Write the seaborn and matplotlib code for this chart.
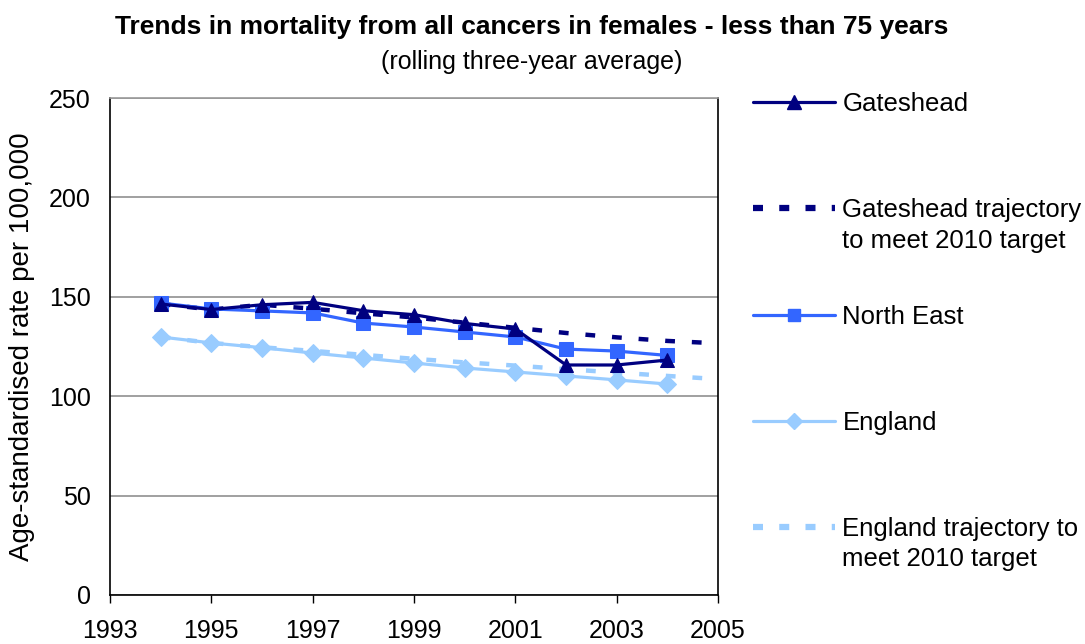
import matplotlib
matplotlib.use("Agg")
import matplotlib.pyplot as plt
import seaborn as sns
import pandas as pd
from matplotlib.lines import Line2D

years = [1994, 1995, 1996, 1997, 1998, 1999, 2000, 2001, 2002, 2003, 2004]
gateshead = [146.4, 143.6, 146.0, 147.2, 143.0, 141.0, 136.6, 133.8, 115.7, 115.7, 118.2]
north_east = [146.9, 143.9, 142.9, 141.9, 136.8, 134.8, 132.3, 129.8, 123.7, 122.7, 120.5]
england = [129.8, 126.8, 124.4, 121.7, 119.2, 116.7, 114.2, 112.2, 110.2, 108.2, 106.1]

traj_years = [1994, 1995, 1996, 1997, 1998, 1999, 2000, 2001, 2002, 2003, 2004, 2005]
gateshead_traj = [146.4, 143.6, 146.0, 144.0, 141.7, 139.6, 137.0, 134.4, 131.8, 129.6, 127.8, 126.6]
england_traj = [129.8, 126.8, 124.6, 122.8, 120.8, 118.8, 117.0, 115.4, 113.6, 111.9, 110.2, 108.6]

labels = ["Gateshead", "Gateshead trajectory", "North East", "England", "England trajectory to"]
labels_second = ["to meet 2010 target", "meet 2010 target"]
x_ticks = [1993, 1995, 1997, 1999, 2001, 2003, 2005]
y_ticks = [0, 50, 100, 150, 200, 250]

title = "Trends in mortality from all cancers in females - less than 75 years"
subtitle = "(rolling three-year average)"
ylabel = "Age-standardised rate per 100,000"

sns.set_theme(style="white")
plt.rcParams["font.family"] = ["Liberation Sans", "DejaVu Sans"]
for k in ["text.color", "axes.labelcolor", "xtick.color", "ytick.color"]:
    plt.rcParams[k] = "black"

c_gh = "#000080"
c_ne = "#3366FF"
c_en = "#99CCFF"

fig = plt.figure(figsize=(10.85, 6.44), dpi=100)
ax = fig.add_axes([0.1014, 0.0761, 0.5604, 0.7717])

df = pd.DataFrame({"year": years, "gh": gateshead, "ne": north_east, "en": england})
dft = pd.DataFrame({"year": traj_years, "ght": gateshead_traj, "ent": england_traj})

lw = 2.3
tlw = 3.2
sns.lineplot(data=dft, x="year", y="ent", ax=ax, color=c_en, lw=tlw, zorder=2)
ax.lines[-1].set_dashes((2.2, 3.8))
sns.lineplot(data=dft, x="year", y="ght", ax=ax, color=c_gh, lw=tlw, zorder=2)
ax.lines[-1].set_dashes((2.2, 3.8))
sns.lineplot(data=df, x="year", y="en", ax=ax, color=c_en, lw=lw, marker="D",
             markersize=9.5, markeredgecolor=c_en, zorder=3)
sns.lineplot(data=df, x="year", y="ne", ax=ax, color=c_ne, lw=lw, marker="s",
             markersize=10, markeredgecolor=c_ne, zorder=4)
sns.lineplot(data=df, x="year", y="gh", ax=ax, color=c_gh, lw=lw, marker="^",
             markersize=10.5, markeredgecolor=c_gh, zorder=5)

ax.set_xlim(1993, 2005)
ax.set_ylim(0, 250)
ax.set_xticks(x_ticks)
ax.set_yticks(y_ticks)
ax.set_xlabel("")
ax.set_ylabel(ylabel, fontsize=20)
ax.yaxis.set_label_coords(-0.123, 0.5)
ax.tick_params(axis="x", direction="out", length=6, width=1, color="black",
               labelsize=18, pad=11, bottom=True)
ax.tick_params(axis="y", length=0, labelsize=18, pad=14)
ax.yaxis.grid(True, color="#999999", lw=1.3)
ax.set_axisbelow(True)
for s in ax.spines.values():
    s.set_visible(True)
    s.set_color("black")
    s.set_linewidth(1.2)
ax.spines["top"].set_color("#999999")

handles = [
    Line2D([], [], color=c_gh, lw=lw, marker="^", markersize=9.5),
    Line2D([], [], color=c_gh, lw=4.5, dashes=(1.6, 2.6)),
    Line2D([], [], color=c_ne, lw=lw, marker="s", markersize=8),
    Line2D([], [], color=c_en, lw=lw, marker="D", markersize=8),
    Line2D([], [], color=c_en, lw=4.5, dashes=(1.6, 2.6)),
]
leg = fig.legend(handles, labels, loc="upper left", bbox_to_anchor=(0.694, 0.857),
                 frameon=False, fontsize=18.5, handlelength=3.2, handletextpad=0.28,
                 labelspacing=3.2, borderaxespad=0, borderpad=0)

fig.text(0.776, 1 - 241 / 644, labels_second[0], fontsize=18.5, va="center", ha="left")
fig.text(0.776, 1 - 559 / 644, labels_second[1], fontsize=18.5, va="center", ha="left")

fig.text(0.490, 1 - 27 / 644, title, fontsize=19, fontweight="bold", ha="center", va="center")
fig.text(0.490, 1 - 62 / 644, subtitle, fontsize=18, ha="center", va="center")

fig.savefig("out.png", dpi=100)
